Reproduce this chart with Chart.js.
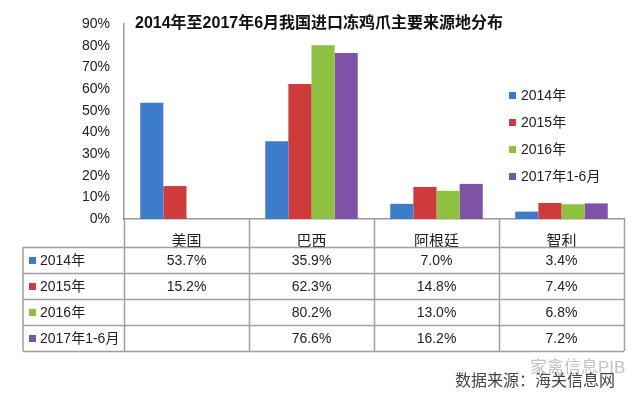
<!DOCTYPE html>
<html>
<head>
<meta charset="utf-8">
<script src="https://cdn.jsdelivr.net/npm/chart.js@4"></script>
<style>
  html, body { margin: 0; padding: 0; background: #fff; }
  #wrap { width: 640px; height: 397px; }
</style>
</head>
<body>
<div id="wrap"><canvas id="chart"></canvas></div>
<script>
"use strict";

// 数据
const countries = ["美国", "巴西", "阿根廷", "智利"];
const seriesNames = ["2014年", "2015年", "2016年", "2017年1-6月"];
const v2014 = [53.7, 35.9, 7.0, 3.4];
const v2015 = [15.2, 62.3, 14.8, 7.4];
const v2016 = [null, 80.2, 13.0, 6.8];
const v2017 = [null, 76.6, 16.2, 7.2];
const colors = ["#3d7cca", "#cf3a3b", "#8dc13f", "#7e52a6"];
const titleText = "2014年至2017年6月我国进口冻鸡爪主要来源地分布";

const FONT = '"Liberation Sans", Arial, "Noto Sans CJK SC", sans-serif';

//表格, 图例, 标题
const tablePlugin = {
    id: "dataTable",
    afterDraw(chart) {
        const ctx = chart.ctx;
        const xs = chart.scales.x;
        const area = chart.chartArea;
        const n = countries.length;
        const catW = (xs.right - xs.left) / n;
        const left = 23;
        const headTop = area.bottom;
        const headBottom = xs.bottom;
        const rowH = 26;
        const tableBottom = headBottom + rowH * seriesNames.length;

        ctx.save();
        ctx.strokeStyle = "#a0a0a0";
        ctx.lineWidth = 1.5;
        ctx.beginPath();
        for (let i = 0; i <= n; i++) {
            const x = Math.round(xs.left + i * catW) + 0.5;
            ctx.moveTo(x, headTop);
            ctx.lineTo(x, tableBottom);
        }
        ctx.moveTo(left, headBottom);
        ctx.lineTo(left, tableBottom);
        for (let r = 0; r <= seriesNames.length; r++) {
            const y = Math.round(headBottom + r * rowH) + 0.5;
            ctx.moveTo(left, y);
            ctx.lineTo(xs.right, y);
        }
        ctx.stroke();

        ctx.font = "14px " + FONT;
        ctx.textBaseline = "middle";
        chart.data.datasets.forEach((ds, r) => {
            const yc = headBottom + r * rowH + rowH / 2 + 1;
            ctx.fillStyle = ds.backgroundColor;
            ctx.fillRect(29, yc - 4, 7, 7);
            ctx.fillStyle = "#222";
            ctx.textAlign = "left";
            ctx.fillText(ds.label, 40, yc);
            ctx.textAlign = "center";
            ds.data.forEach((v, i) => {
                if (v === null) return;
                ctx.fillText(v.toFixed(1) + "%", xs.left + (i + 0.5) * catW, yc);
            });
        });

        // 图例
        ctx.textAlign = "left";
        chart.data.datasets.forEach((ds, r) => {
            const y = 96 + r * 27;
            ctx.fillStyle = ds.backgroundColor;
            ctx.fillRect(509, y - 4, 7, 7);
            ctx.fillStyle = "#222";
            ctx.fillText(ds.label, 521, y);
        });

        // 标题
        ctx.font = "bold 16px " + FONT;
        ctx.fillStyle = "#111";
        ctx.fillText(titleText, 135, 24);

        // 来源
        ctx.font = "17px " + FONT;
        ctx.fillStyle = "#c4c4c4";
        ctx.fillText("家禽信息PIB", 530, 368);
        ctx.font = "16px " + FONT;
        ctx.fillStyle = "#444";
        ctx.fillText("数据来源：海关信息网", 455, 382);
        ctx.restore();
    }
};

const datasets = [v2014, v2015, v2016, v2017].map((vals, i) => ({
    label: seriesNames[i],
    data: vals,
    backgroundColor: colors[i],
    borderWidth: 0
}));

new Chart(document.getElementById("chart"), {
    type: "bar",
    data: { labels: countries, datasets: datasets },
    options: {
        responsive: true,
        maintainAspectRatio: false,
        animation: false,
        layout: { padding: { left: 0, right: 16, top: 24, bottom: 150 } },
        datasets: { bar: { barPercentage: 1, categoryPercentage: 0.74 } },
        plugins: { legend: { display: false }, title: { display: false }, tooltip: { enabled: false } },
        scales: {
            x: {
                grid: { display: false },
                border: { color: "#9a9a9a", width: 1.5 },
                ticks: { color: "#222", font: { size: 15, family: FONT }, padding: 6 },
                afterFit: s => { s.height = 28; }
            },
            y: {
                min: 0,
                max: 90,
                grid: { display: false, drawTicks: false },
                border: { color: "#9a9a9a", width: 1.5 },
                ticks: {
                    stepSize: 10,
                    color: "#222",
                    padding: 14,
                    font: { size: 14, family: FONT },
                    callback: v => v + "%"
                },
                afterFit: s => { s.width = 124; }
            }
        }
    },
    plugins: [tablePlugin]
});
</script>
</body>
</html>
